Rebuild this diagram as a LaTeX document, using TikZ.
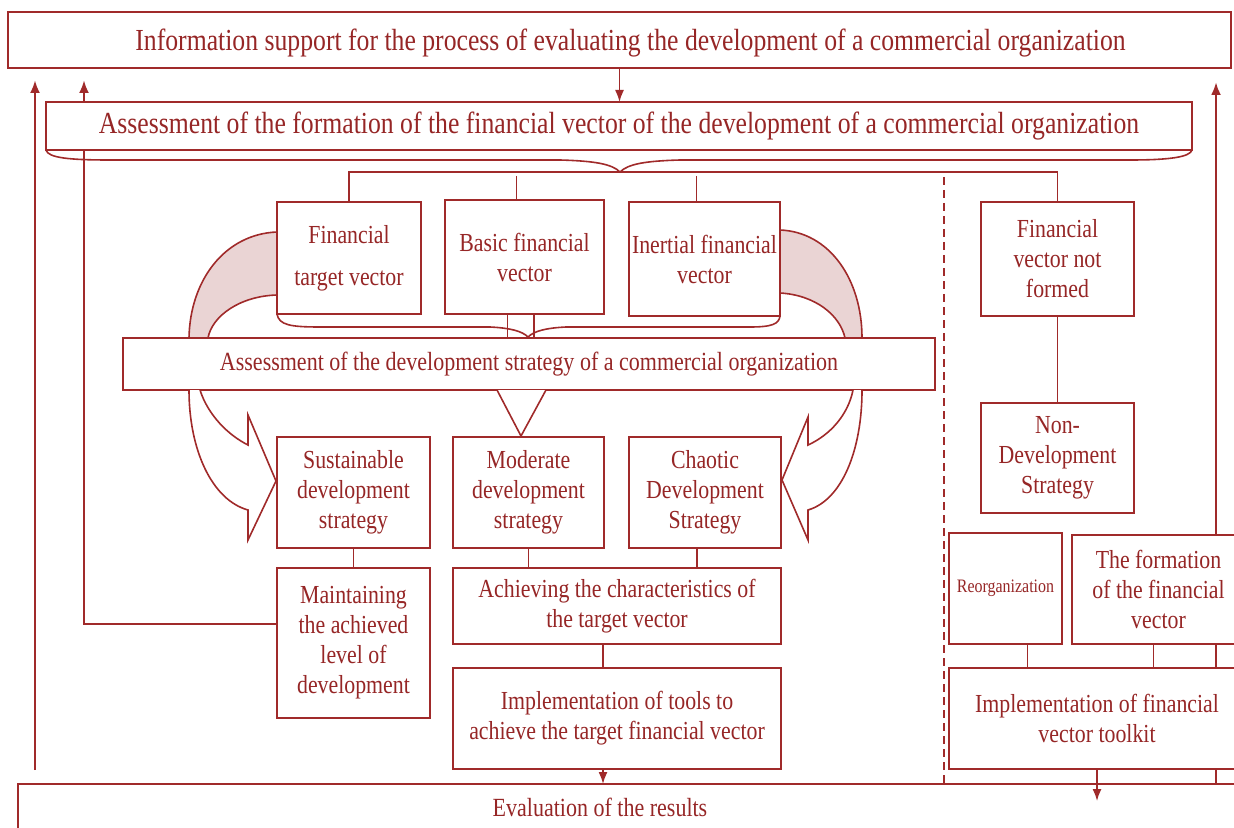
\documentclass[tikz,border=0pt]{standalone}
\usepackage{fontspec}
\setmainfont{Liberation Serif}[FakeStretch=0.84]
\usetikzlibrary{arrows.meta,backgrounds}
\definecolor{dred}{RGB}{160,42,42}
\definecolor{tred}{RGB}{150,38,38}
\definecolor{pinkfill}{RGB}{234,212,212}
\begin{document}
\begin{tikzpicture}[x=0.5pt,y=-0.5pt,
  box/.style={draw=dred, line width=0.8pt, fill=white, inner sep=0pt, outer sep=0pt, align=center, text=tred, font=\fontsize{13}{15}\selectfont},
  bigbox/.style={box, font=\fontsize{15.3}{18}\selectfont},
  rb/.style args={#1/#2/#3/#4}{minimum width={(#3-#1)*0.5pt}, minimum height={(#4-#2)*0.5pt}, at={({(#1+#3)/2},{(#2+#4)/2})}},
  txt/.style={inner sep=0pt, text=tred, font=\fontsize{13.1}{15}\selectfont},
  ln/.style={draw=dred, line width=0.8pt},
  thk/.style={draw=dred, line width=1.4pt},
  arr/.style={-{Latex[length=6pt,width=4.5pt]}},
  bigarr/.style={-{Latex[length=6.5pt,width=5pt]}},
  shape band/.style={draw=dred, line width=0.8pt, fill=pinkfill},
  shape out/.style={draw=dred, line width=0.8pt, fill=white}]
\path[use as bounding box] (0,0) rectangle (1234,828);
\clip (0,0) rectangle (1234,828);

% top boxes
\node[bigbox, rb=8/12/1231/68, text height=13.5pt, text depth=3.3pt] (info) {\hspace*{11pt}Information support for the process of evaluating the development of a commercial organization};
\node[bigbox, rb=46/102/1192/150] (formation) {Assessment of the formation of the financial vector of the development of a commercial organization};
\coordinate (btip) at (620,172);
\draw[ln] (formation.south west) .. controls (48,158) and (70,160) .. (110,160) -- (560,160) .. controls (595,161) and (612,164) .. (btip) .. controls (628,164) and (645,161) .. (680,160) -- (1130,160) .. controls (1170,160) and (1190,157) .. (formation.south east);
\draw[ln, arr] (info.south) -- (info.south |- formation.north);

% vectors
\node[box, rb=277/202/421/314] (ftv) {Financial\\[6pt]target vector};
\node[box, rb=445/200/604/314] (bfv) {Basic financial\\vector};
\node[box, rb=629/202/780/316] (ifv) {Inertial financial\\vector};
\node[box, rb=981/202/1134/316] (fvnf) {Financial\\vector not\\formed};

\draw[ln] (ftv.north) -- (ftv.north |- btip) -- (fvnf.north |- btip) -- (fvnf.north);
\coordinate (tickY) at (0,176);
\draw[ln] ([xshift=-4pt]bfv.north |- tickY) -- ([xshift=-4pt]bfv.north);
\draw[ln] ([xshift=-4pt]ifv.north |- tickY) -- ([xshift=-4pt]ifv.north);

% strategy assessment
\node[box, font=\fontsize{13.1}{15}\selectfont, rb=123/338/935/390] (strat) {Assessment of the development strategy of a commercial organization};
\draw[ln] (ftv.south west) .. controls (279,325) and (290,327) .. (320,327) -- (490,327) .. controls (510,328) and (522,331) .. (528,337) .. controls (534,331) and (546,328) .. (566,327) -- (750,327) .. controls (772,327) and (779,324) .. (ifv.south east);
\draw[ln] ([xshift=-8.5pt]bfv.south) -- ([xshift=-8.5pt]bfv.south |- strat.north);
\draw[ln] ([xshift=4.75pt]bfv.south) -- ([xshift=4.75pt]bfv.south |- strat.north);

% strategies
\node[box, rb=277/437/430/548] (sus) {Sustainable\\development\\strategy};
\node[box, rb=453/437/604/548] (mod) {Moderate\\development\\strategy};
\node[box, rb=629/437/781/548] (cha) {Chaotic\\Development\\Strategy};
\draw[ln, fill=white] (497,390) -- (521,436) -- (546,390);

\node[box, rb=277/568/430/718] (maint) {Maintaining\\the achieved\\level of\\development};
\node[box, rb=453/568/781/644] (ach) {Achieving the characteristics of\\the target vector};
\node[box, rb=453/668/781/769] (impl) {Implementation of tools to\\achieve the target financial vector};
\draw[ln] (sus.south) -- (maint.north);
\draw[ln] (mod.south) -- (mod.south |- ach.north);
\draw[ln] ([xshift=-4pt]cha.south) -- ([xshift=-4pt]cha.south |- ach.north);
\draw[ln] ([xshift=-7pt]ach.south) -- ([xshift=-7pt]ach.south |- impl.north);

% curved arrows left
\path[shape band] (277,232) .. controls (225,234) and (190,280) .. (189,338) -- (208,338) .. controls (212,316) and (240,296) .. (277,295) -- cycle;
\path[shape out] (189,390) .. controls (189,450) and (212,500) .. (248,510) -- (248,540) -- (276,481) -- (248,415) -- (248,445) .. controls (228,435) and (208,415) .. (200,390);
% curved arrows right
\path[shape band] (780,230) .. controls (830,232) and (862,280) .. (862,338) -- (845,338) .. controls (840,315) and (815,295) .. (780,293) -- cycle;
\path[shape out] (862,390) .. controls (862,450) and (842,500) .. (808,510) -- (808,540) -- (782,480) -- (808,417) -- (808,445) .. controls (830,435) and (848,415) .. (853,390);

% right side
\node[box, rb=981/403/1134/513] (nds) {Non-\\Development\\Strategy};
\draw[ln] (fvnf.south) -- (nds.north);
\node[box, font=\fontsize{9.5}{11}\selectfont, rb=949/533/1062/644] (reorg) {Reorganization};
\node[box, rb=1072/535/1245/644] (form) {The formation\\of the financial\\vector};
\node[box, rb=949/668/1245/769] (tool) {Implementation of financial\\vector toolkit};
\draw[ln] ([xshift=11pt]reorg.south) -- ([xshift=11pt]reorg.south |- tool.north);
\draw[ln] ([xshift=-2.5pt]form.south) -- ([xshift=-2.5pt]form.south |- tool.north);

% evaluation
\node[box, rb=18/784/1250/834] (eval) {};
\node[txt] (evaltxt) at (600,807) {Evaluation of the results};
\coordinate (toolTip) at (1097,801);
\draw[ln, arr] (tool.south -| toolTip) -- (toolTip);
\draw[ln, arr] ([xshift=-7pt]impl.south) -- ([xshift=-7pt]impl.south |- eval.north);

% background lines
\begin{scope}[on background layer]
  \coordinate (L1top) at (35,80);
  \coordinate (L1bot) at (35,770);
  \coordinate (L2top) at (84,80);
  \coordinate (Rtop) at (1216,82);
  \coordinate (Rbot) at (1216,784);
  \coordinate (Dtop) at (944,177);
  \coordinate (Dbot) at (944,784);
  \draw[thk, bigarr] (L1bot) -- (L1top);
  \draw[thk, bigarr] ([yshift=9.5pt]maint.west) -| (L2top);
  \draw[thk, bigarr] (Rbot) -- (Rtop);
  \draw[ln, line width=0.9pt, dash pattern=on 4pt off 2.5pt] (Dtop) -- (Dbot);
\end{scope}
\end{tikzpicture}
\end{document}
